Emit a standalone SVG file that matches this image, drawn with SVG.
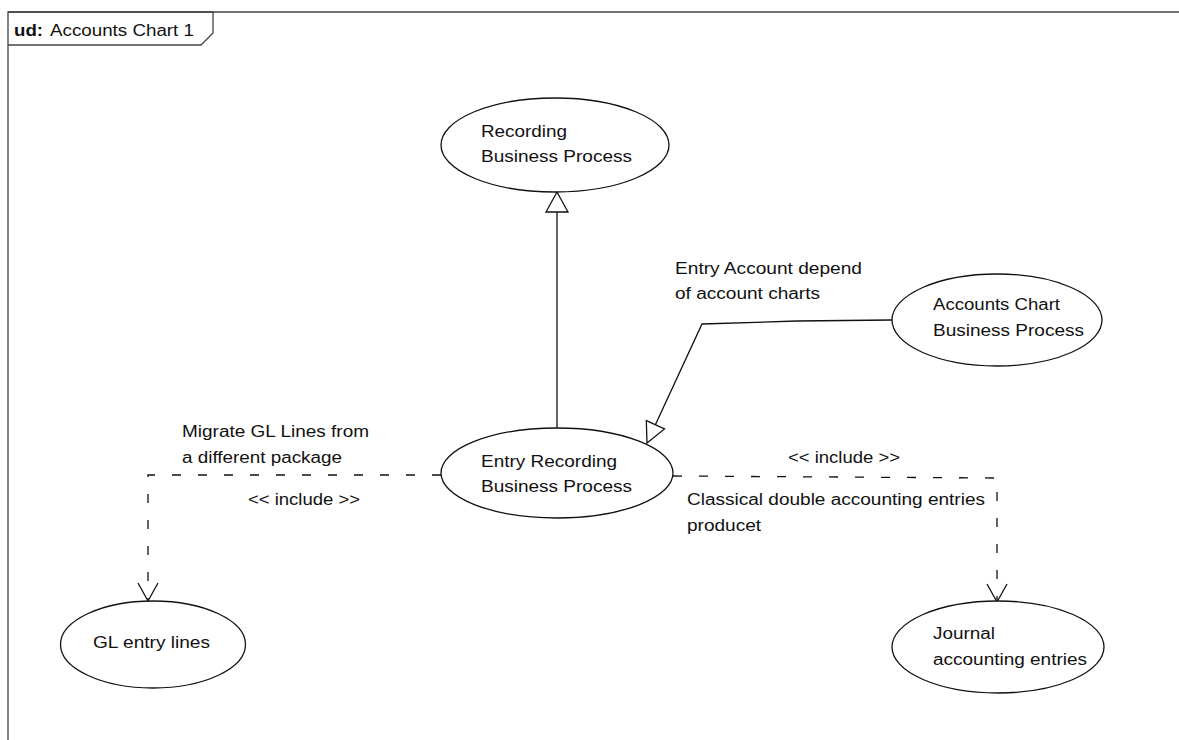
<svg xmlns="http://www.w3.org/2000/svg" width="1179" height="740" viewBox="0 0 1179 740">
<style>
text{font-family:"Liberation Sans",Arial,sans-serif;font-size:16px;fill:#111;}
.uc{fill:#fff;stroke:#111;stroke-width:1.3;}
.ln{fill:none;stroke:#111;stroke-width:1.3;}
.dash{fill:none;stroke:#111;stroke-width:1.3;stroke-dasharray:9 17;}
.head{fill:#fff;stroke:#111;stroke-width:1.3;}
.frame{fill:none;stroke:#444;stroke-width:1.3;}
</style>
<rect width="1179" height="740" fill="#fff"/>
<g id="frame">
<path class="frame" d="M8,740 V12 H1179"/>
<path class="frame" d="M8,12 H213 V33 L201,45 H8"/>
<text x="14" y="36" font-weight="bold" textLength="29" lengthAdjust="spacingAndGlyphs">ud:</text>
<text x="50" y="36" textLength="144" lengthAdjust="spacingAndGlyphs">Accounts Chart 1</text>
</g>
<g id="connectors">
<line class="ln" x1="557" y1="428" x2="557" y2="212"/>
<polygon class="head" points="557,192 546,212 568,212"/>
<polyline class="ln" points="892,320 797,321 702,324 655.4,424.8"/>
<polygon class="head" points="647,443 664.5,429 646.3,420.6"/>
<polyline class="dash" points="441,475 148,475 148,600"/>
<polyline class="ln" points="138,583 148,601 158,583"/>
<polyline class="dash" points="673,476 997,478 997,600"/>
<polyline class="ln" points="987,584 997,602 1007,584"/>
<text x="182" y="437" textLength="187" lengthAdjust="spacingAndGlyphs">Migrate GL Lines from</text>
<text x="182" y="463" textLength="160" lengthAdjust="spacingAndGlyphs">a different package</text>
<text x="248" y="505" textLength="112" lengthAdjust="spacingAndGlyphs">&lt;&lt; include &gt;&gt;</text>
<text x="788" y="463" textLength="112" lengthAdjust="spacingAndGlyphs">&lt;&lt; include &gt;&gt;</text>
<text x="687" y="505" textLength="298" lengthAdjust="spacingAndGlyphs">Classical double accounting entries</text>
<text x="687" y="531" textLength="74" lengthAdjust="spacingAndGlyphs">producet</text>
<text x="675" y="274" textLength="187" lengthAdjust="spacingAndGlyphs">Entry Account depend</text>
<text x="675" y="299" textLength="145" lengthAdjust="spacingAndGlyphs">of account charts</text>
</g>
<g id="recording">
<ellipse class="uc" cx="555" cy="145" rx="114" ry="47"/>
<text x="481" y="137" textLength="86" lengthAdjust="spacingAndGlyphs">Recording</text>
<text x="481" y="162" textLength="151" lengthAdjust="spacingAndGlyphs">Business Process</text>
</g>
<g id="entry">
<ellipse class="uc" cx="557" cy="473" rx="116" ry="45"/>
<text x="481" y="467" textLength="136" lengthAdjust="spacingAndGlyphs">Entry Recording</text>
<text x="481" y="492" textLength="151" lengthAdjust="spacingAndGlyphs">Business Process</text>
</g>
<g id="accounts">
<ellipse class="uc" cx="997" cy="320" rx="105" ry="46"/>
<text x="933" y="310" textLength="127" lengthAdjust="spacingAndGlyphs">Accounts Chart</text>
<text x="933" y="336" textLength="151" lengthAdjust="spacingAndGlyphs">Business Process</text>
</g>
<g id="gl">
<ellipse class="uc" cx="153" cy="644.5" rx="92.5" ry="43.5"/>
<text x="93" y="648" textLength="117" lengthAdjust="spacingAndGlyphs">GL entry lines</text>
</g>
<g id="journal">
<ellipse class="uc" cx="998" cy="647" rx="106" ry="46"/>
<text x="933" y="639" textLength="62" lengthAdjust="spacingAndGlyphs">Journal</text>
<text x="933" y="665" textLength="154" lengthAdjust="spacingAndGlyphs">accounting entries</text>
</g>
</svg>
